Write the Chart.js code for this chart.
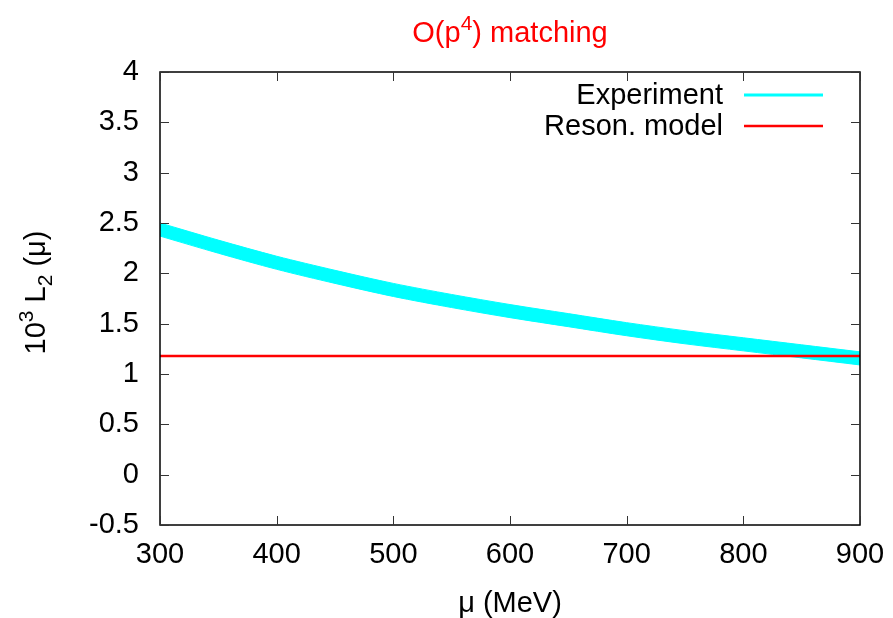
<!DOCTYPE html>
<html>
<head>
<meta charset="utf-8">
<script src="https://cdn.jsdelivr.net/npm/chart.js@4.4.1/dist/chart.umd.min.js"></script>
<style>
  html, body { margin: 0; padding: 0; background: #fff; }
  canvas { display: block; }
</style>
</head>
<body>
<canvas id="myChart" width="893" height="618"></canvas>
<script>
(function () {
  'use strict'

  // data
  var muValues = [300, 350, 400, 450, 500, 550, 600, 650, 700, 750, 800, 850, 900]
  var expUpper = [2.50, 2.33, 2.17, 2.03, 1.90, 1.79, 1.69, 1.60, 1.51, 1.43, 1.36, 1.29, 1.22]
  var expLower = [2.37, 2.20, 2.04, 1.90, 1.77, 1.66, 1.56, 1.47, 1.38, 1.30, 1.23, 1.16, 1.09]
  var resonMu = [300, 900]
  var resonValue = [1.18, 1.18]
  var xTicks = [300, 400, 500, 600, 700, 800, 900]
  var yTicks = [-0.5, 0, 0.5, 1, 1.5, 2, 2.5, 3, 3.5, 4]

  var FONT = '"Liberation Sans", Arial, sans-serif'
  var SIZE = 29
  var SMALL = 21

  function pts(xs, ys) {
    return xs.map(function (x, i) { return { x: x, y: ys[i] } })
  }

  // draws a run of pieces (normal / super / sub) centered on cx
  function drawRich(ctx, pieces, cx, baseY, color) {
    ctx.fillStyle = color
    ctx.textBaseline = 'alphabetic'
    ctx.textAlign = 'left'
    var total = 0
    pieces.forEach(function (p) {
      ctx.font = p.size + 'px ' + FONT
      p.w = ctx.measureText(p.t).width
      total += p.w
    })
    var x = cx - total / 2
    pieces.forEach(function (p) {
      ctx.font = p.size + 'px ' + FONT
      ctx.fillText(p.t, x, baseY + p.dy)
      x += p.w
    })
  }

  var gnuplotFrame = {
    id: 'gnuplotFrame',
    afterDraw: function (chart) {
      var ctx = chart.ctx
      var a = chart.chartArea
      var xs = chart.scales.x
      var ys = chart.scales.y
      ctx.save()

      // border
      ctx.strokeStyle = '#000'
      ctx.lineWidth = 1.5
      ctx.strokeRect(a.left, a.top, a.right - a.left, a.bottom - a.top)

      // inward ticks, mirrored
      ctx.lineWidth = 1
      ctx.strokeStyle = '#333'
      var tl = 9
      ctx.beginPath()
      xTicks.forEach(function (v) {
        var px = Math.round(xs.getPixelForValue(v)) + 0.5
        ctx.moveTo(px, a.bottom); ctx.lineTo(px, a.bottom - tl)
        ctx.moveTo(px, a.top); ctx.lineTo(px, a.top + tl)
      })
      yTicks.forEach(function (v) {
        var py = Math.round(ys.getPixelForValue(v)) + 0.5
        ctx.moveTo(a.left, py); ctx.lineTo(a.left + tl, py)
        ctx.moveTo(a.right, py); ctx.lineTo(a.right - tl, py)
      })
      ctx.stroke()

      // title
      drawRich(ctx, [
        { t: 'O(p', size: SIZE, dy: 0 },
        { t: '4', size: SMALL, dy: -12 },
        { t: ') matching', size: SIZE, dy: 0 }
      ], (a.left + a.right) / 2, 42, '#ff0000')

      // x axis label
      drawRich(ctx, [{ t: 'μ (MeV)', size: SIZE, dy: 0 }], (a.left + a.right) / 2, 612, '#000')

      // y axis label, rotated
      ctx.save()
      ctx.translate(35, (a.top + a.bottom) / 2 - 6)
      ctx.rotate(-Math.PI / 2)
      drawRich(ctx, [
        { t: '10', size: SIZE, dy: 0 },
        { t: '3', size: SMALL, dy: -12 },
        { t: ' L', size: SIZE, dy: 0 },
        { t: '2', size: SMALL, dy: 7 },
        { t: ' (μ)', size: SIZE, dy: 0 }
      ], 0, 10, '#000')
      ctx.restore()

      // key, gnuplot style: text right aligned, sample after
      var keys = [
        { label: 'Experiment', color: '#00ffff', y: 95, w: 3 },
        { label: 'Reson. model', color: '#ff0000', y: 126, w: 2.5 }
      ]
      keys.forEach(function (k) {
        ctx.font = SIZE + 'px ' + FONT
        ctx.fillStyle = '#000'
        ctx.textAlign = 'right'
        ctx.textBaseline = 'middle'
        ctx.fillText(k.label, 723, k.y + 1)
        ctx.strokeStyle = k.color
        ctx.lineWidth = k.w
        ctx.beginPath()
        ctx.moveTo(744, k.y)
        ctx.lineTo(823, k.y)
        ctx.stroke()
      })
      ctx.restore()
    }
  }

  var ctx = document.getElementById('myChart')
  const config = {
    type: 'line',
    data: {
      datasets: [{
          label: 'Reson. model',
          data: pts(resonMu, resonValue),
          borderColor: '#ff0000',
          borderWidth: 2.5,
          pointRadius: 0,
          fill: false
        }, {
          label: 'Experiment',
          data: pts(muValues, expUpper),
          borderColor: '#00ffff',
          borderWidth: 1,
          backgroundColor: '#00ffff',
          pointRadius: 0,
          tension: 0.3,
          fill: '+1'
        }, {
          label: 'Experiment low',
          data: pts(muValues, expLower),
          borderColor: '#00ffff',
          borderWidth: 1,
          pointRadius: 0,
          tension: 0.3,
          fill: false
      }]
    },
    options: {
      responsive: false,
      animation: false,
      devicePixelRatio: 1,
      layout: { padding: { top: 72, right: 33, left: 0, bottom: 0 } },
      scales: {
        x: {
          type: 'linear',
          min: 300,
          max: 900,
          grid: { display: false, drawTicks: false },
          border: { display: false },
          ticks: {
            stepSize: 100,
            padding: 13,
            maxRotation: 0,
            color: '#000',
            font: { family: FONT, size: SIZE }
          },
          afterFit: function (s) {
            s.height = 93
            s.paddingLeft = 0
            s.paddingRight = 0
          }
        },
        y: {
          type: 'linear',
          min: -0.5,
          max: 4,
          grid: { display: false, drawTicks: false },
          border: { display: false },
          ticks: {
            stepSize: 0.5,
            padding: 21,
            color: '#000',
            font: { family: FONT, size: SIZE },
            callback: function (value) {
              return String(Math.round(value * 10) / 10)
            }
          },
          afterFit: function (s) {
            s.width = 160
            s.paddingTop = 0
            s.paddingBottom = 0
          }
        }
      },
      plugins: {
        legend: { display: false },
        tooltip: { enabled: false }
      }
    },
    plugins: [gnuplotFrame]
  }
  var lineChart = new Chart(ctx, config)

}) ()
</script>
</body>
</html>
